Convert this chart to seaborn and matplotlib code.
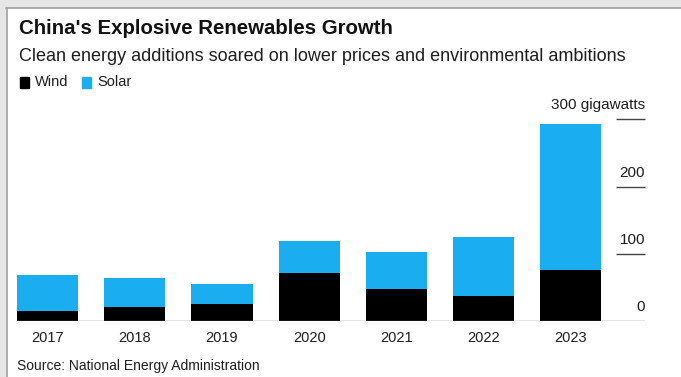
import matplotlib
matplotlib.use("Agg")
import matplotlib.pyplot as plt
from matplotlib.patches import Rectangle
from matplotlib.lines import Line2D
import seaborn as sns
import pandas as pd

years = ["2017", "2018", "2019", "2020", "2021", "2022", "2023"]
wind = [15.0, 20.6, 25.7, 71.7, 47.6, 37.6, 75.9]
solar = [53.1, 44.3, 30.1, 48.2, 54.9, 87.4, 216.9]
tick_values = [0, 100, 200, 300]
tick_labels = ["0", "100", "200", "300 gigawatts"]

WIND_COLOR = "#000000"
SOLAR_COLOR = "#1aadf0"
TEXT_COLOR = "#1e1e1e"

sns.set_theme(style="white")
plt.rcParams["font.family"] = ["Liberation Sans", "DejaVu Sans"]

df = pd.DataFrame({"year": years, "Wind": wind, "Solar": solar})
df["Total"] = df["Wind"] + df["Solar"]

W, H = 681, 377
fig = plt.figure(figsize=(W / 100, H / 100), dpi=100)
fig.patch.set_facecolor("white")

# plotting area, placed in pixel terms
left_px, right_px = 17, 645
bottom_px, top_px = 321.3, 110
ax = fig.add_axes([left_px / W, 1 - bottom_px / H,
                   (right_px - left_px) / W, (bottom_px - top_px) / H])

# stacked bars: total (solar colour) behind, wind in front
sns.barplot(data=df, x="year", y="Total", color=SOLAR_COLOR, width=0.7,
            saturation=1, ax=ax, linewidth=0)
sns.barplot(data=df, x="year", y="Wind", color=WIND_COLOR, width=0.7,
            saturation=1, ax=ax, linewidth=0)

ax.set_xlim(-0.35, 6.85)
ymax = (bottom_px - top_px) / 0.673
ax.set_ylim(0, ymax)
for s in ax.spines.values():
    s.set_visible(False)
ax.set_xlabel("")
ax.set_ylabel("")
ax.set_yticks([])
ax.tick_params(axis="x", length=0, pad=7, labelsize=10.5, labelcolor=TEXT_COLOR)

# baseline
ax.axhline(0, color="#777777", lw=1.0, zorder=5)

# right-side value scale with short rules
x_rule0 = 6.52
for v, lab in zip(tick_values, tick_labels):
    if v > 0:
        ax.hlines(v, x_rule0, 6.85, color="#444444", lw=1.0, clip_on=False)
    ax.text(6.85, v + 21, lab, ha="right", va="center", fontsize=11,
            color=TEXT_COLOR, clip_on=False)

# header text
fig.text(19 / W, 1 - 29 / H, "China's Explosive Renewables Growth",
         ha="left", va="center", fontsize=14.7, fontweight="bold",
         color="#111111")
fig.text(19 / W, 1 - 56.5 / H,
         "Clean energy additions soared on lower prices and environmental ambitions",
         ha="left", va="center", fontsize=13, color=TEXT_COLOR)

# legend
for x0, label, col in [(20, "Wind", WIND_COLOR), (82, "Solar", SOLAR_COLOR)]:
    fig.patches.append(Rectangle((x0 / W, 1 - 87.5 / H), 9 / W, 10 / H,
                                 transform=fig.transFigure, color=col))
    fig.text((x0 + 15) / W, 1 - 82 / H, label, ha="left", va="center",
             fontsize=10.5, color=TEXT_COLOR)

fig.text(17 / W, 1 - 366 / H, "Source: National Energy Administration",
         ha="left", va="center", fontsize=10, color=TEXT_COLOR)

# grey page frame along top and left
fig.patches.append(Rectangle((0, 1 - 7 / H), 1, 7 / H, transform=fig.transFigure,
                             color="#e6e6e6", zorder=0))
fig.patches.append(Rectangle((0, 0), 6 / W, 1, transform=fig.transFigure,
                             color="#e6e6e6", zorder=0))
fig.lines.append(Line2D([6 / W, 1], [1 - 7.5 / H, 1 - 7.5 / H],
                        transform=fig.transFigure, color="#a0a0a0", lw=1.2))
fig.lines.append(Line2D([6.5 / W, 6.5 / W], [0, 1 - 7.5 / H],
                        transform=fig.transFigure, color="#a0a0a0", lw=1.2))

fig.savefig("out.png", dpi=100)
